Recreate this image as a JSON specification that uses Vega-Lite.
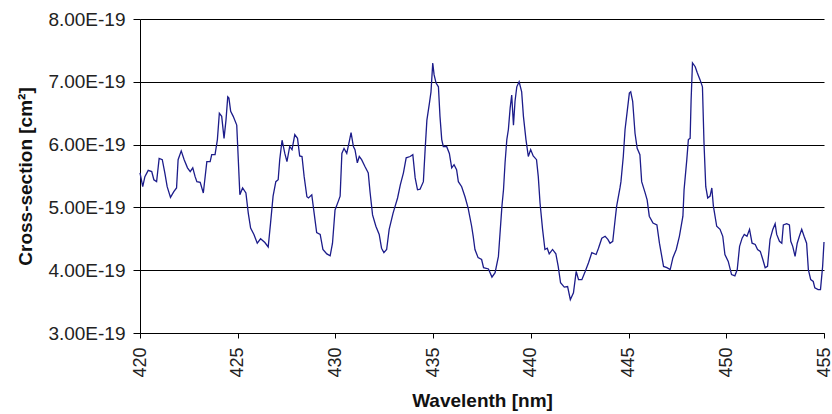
{
  "$schema": "https://vega.github.io/schema/vega-lite/v6.json",
  "autosize": "none",
  "width": 684,
  "height": 314,
  "padding": {"left": 140, "top": 19, "right": 8, "bottom": 81},
  "background": "white",
  "config": {"view": {"stroke": null}, "font": "Liberation Sans"},
  "data": {"values": [
    {"w":420.00,"cs":5.55e-19},{"w":420.14,"cs":5.33e-19},{"w":420.25,"cs":5.49e-19},{"w":420.42,"cs":5.59e-19},{"w":420.60,"cs":5.57e-19},{"w":420.71,"cs":5.44e-19},{"w":420.85,"cs":5.41e-19},{"w":420.98,"cs":5.78e-19},{"w":421.14,"cs":5.76e-19},{"w":421.27,"cs":5.55e-19},{"w":421.39,"cs":5.33e-19},{"w":421.56,"cs":5.16e-19},{"w":421.73,"cs":5.25e-19},{"w":421.87,"cs":5.31e-19},{"w":421.95,"cs":5.76e-19},
    {"w":422.11,"cs":5.90e-19},{"w":422.26,"cs":5.76e-19},{"w":422.43,"cs":5.63e-19},{"w":422.57,"cs":5.57e-19},{"w":422.70,"cs":5.63e-19},{"w":422.82,"cs":5.49e-19},{"w":422.91,"cs":5.41e-19},{"w":423.08,"cs":5.40e-19},{"w":423.24,"cs":5.23e-19},{"w":423.42,"cs":5.73e-19},{"w":423.59,"cs":5.73e-19},{"w":423.67,"cs":5.84e-19},{"w":423.84,"cs":5.84e-19},{"w":423.96,"cs":6.08e-19},{"w":424.06,"cs":6.50e-19},{"w":424.18,"cs":6.45e-19},{"w":424.30,"cs":6.10e-19},{"w":424.40,"cs":6.39e-19},{"w":424.49,"cs":6.76e-19},{"w":424.55,"cs":6.74e-19},{"w":424.64,"cs":6.53e-19},{"w":424.77,"cs":6.45e-19},{"w":424.95,"cs":6.31e-19},{"w":425.03,"cs":5.76e-19},{"w":425.11,"cs":5.20e-19},{"w":425.25,"cs":5.31e-19},{"w":425.42,"cs":5.23e-19},{"w":425.54,"cs":4.91e-19},{"w":425.66,"cs":4.67e-19},{"w":425.83,"cs":4.57e-19},{"w":426.00,"cs":4.43e-19},{"w":426.17,"cs":4.50e-19},{"w":426.39,"cs":4.44e-19},{"w":426.56,"cs":4.37e-19},{"w":426.68,"cs":4.75e-19},{"w":426.81,"cs":5.18e-19},{"w":426.95,"cs":5.41e-19},{"w":427.07,"cs":5.44e-19},{"w":427.15,"cs":5.76e-19},{"w":427.27,"cs":6.07e-19},{"w":427.41,"cs":5.86e-19},{"w":427.52,"cs":5.73e-19},{"w":427.66,"cs":5.97e-19},{"w":427.78,"cs":5.92e-19},{"w":427.92,"cs":6.16e-19},
    {"w":428.06,"cs":6.10e-19},{"w":428.17,"cs":5.82e-19},{"w":428.29,"cs":5.81e-19},{"w":428.40,"cs":5.49e-19},{"w":428.54,"cs":5.17e-19},{"w":428.62,"cs":5.15e-19},{"w":428.79,"cs":5.20e-19},{"w":428.91,"cs":4.91e-19},{"w":429.04,"cs":4.60e-19},{"w":429.22,"cs":4.57e-19},{"w":429.36,"cs":4.33e-19},{"w":429.56,"cs":4.26e-19},{"w":429.73,"cs":4.23e-19},{"w":429.85,"cs":4.43e-19},{"w":429.98,"cs":4.96e-19},{"w":430.15,"cs":5.10e-19},{"w":430.24,"cs":5.18e-19},{"w":430.33,"cs":5.86e-19},{"w":430.44,"cs":5.94e-19},{"w":430.58,"cs":5.86e-19},{"w":430.71,"cs":6.05e-19},{"w":430.80,"cs":6.19e-19},{"w":430.92,"cs":5.97e-19},{"w":431.00,"cs":5.92e-19},{"w":431.12,"cs":5.71e-19},{"w":431.22,"cs":5.81e-19},{"w":431.34,"cs":5.76e-19},{"w":431.51,"cs":5.65e-19},{"w":431.68,"cs":5.55e-19},{"w":431.77,"cs":5.25e-19},{"w":431.90,"cs":4.88e-19},{"w":432.07,"cs":4.70e-19},{"w":432.24,"cs":4.57e-19},{"w":432.36,"cs":4.35e-19},{"w":432.48,"cs":4.28e-19},{"w":432.62,"cs":4.33e-19},{"w":432.75,"cs":4.65e-19},{"w":432.95,"cs":4.91e-19},
    {"w":433.18,"cs":5.15e-19},{"w":433.32,"cs":5.36e-19},{"w":433.48,"cs":5.55e-19},{"w":433.62,"cs":5.79e-19},{"w":433.82,"cs":5.81e-19},{"w":433.96,"cs":5.84e-19},{"w":434.08,"cs":5.47e-19},{"w":434.20,"cs":5.28e-19},{"w":434.33,"cs":5.29e-19},{"w":434.50,"cs":5.41e-19},{"w":434.59,"cs":5.92e-19},{"w":434.68,"cs":6.39e-19},{"w":434.81,"cs":6.66e-19},{"w":434.89,"cs":6.84e-19},{"w":434.98,"cs":7.30e-19},{"w":435.05,"cs":7.11e-19},{"w":435.15,"cs":6.98e-19},{"w":435.27,"cs":6.92e-19},{"w":435.35,"cs":6.45e-19},{"w":435.44,"cs":6.08e-19},{"w":435.52,"cs":5.97e-19},{"w":435.69,"cs":5.97e-19},{"w":435.83,"cs":5.86e-19},{"w":435.95,"cs":5.63e-19},{"w":436.07,"cs":5.68e-19},{"w":436.20,"cs":5.60e-19},{"w":436.29,"cs":5.41e-19},{"w":436.46,"cs":5.33e-19},{"w":436.63,"cs":5.17e-19},{"w":436.79,"cs":4.99e-19},{"w":436.97,"cs":4.70e-19},{"w":437.05,"cs":4.54e-19},{"w":437.14,"cs":4.33e-19},{"w":437.30,"cs":4.20e-19},{"w":437.48,"cs":4.17e-19},
    {"w":437.58,"cs":4.04e-19},{"w":437.83,"cs":4.02e-19},{"w":438.01,"cs":3.89e-19},{"w":438.17,"cs":3.96e-19},{"w":438.34,"cs":4.22e-19},{"w":438.52,"cs":5.02e-19},{"w":438.60,"cs":5.28e-19},{"w":438.68,"cs":5.71e-19},{"w":438.77,"cs":6.08e-19},{"w":438.85,"cs":6.24e-19},{"w":438.94,"cs":6.58e-19},{"w":439.02,"cs":6.79e-19},{"w":439.11,"cs":6.31e-19},{"w":439.19,"cs":6.69e-19},{"w":439.28,"cs":6.92e-19},{"w":439.40,"cs":7.00e-19},{"w":439.53,"cs":6.84e-19},{"w":439.62,"cs":6.45e-19},{"w":439.75,"cs":6.08e-19},{"w":439.87,"cs":5.81e-19},{"w":439.99,"cs":5.92e-19},{"w":440.12,"cs":5.82e-19},{"w":440.29,"cs":5.76e-19},{"w":440.38,"cs":5.49e-19},{"w":440.47,"cs":5.07e-19},{"w":440.60,"cs":4.65e-19},{"w":440.72,"cs":4.33e-19},{"w":440.84,"cs":4.35e-19},{"w":440.94,"cs":4.26e-19},{"w":441.11,"cs":4.33e-19},{"w":441.28,"cs":4.26e-19},{"w":441.40,"cs":4.06e-19},{"w":441.52,"cs":3.80e-19},
    {"w":441.71,"cs":3.73e-19},{"w":441.88,"cs":3.74e-19},{"w":442.02,"cs":3.53e-19},{"w":442.18,"cs":3.64e-19},{"w":442.32,"cs":3.98e-19},{"w":442.44,"cs":3.85e-19},{"w":442.61,"cs":3.85e-19},{"w":442.78,"cs":3.98e-19},{"w":442.95,"cs":4.12e-19},{"w":443.12,"cs":4.28e-19},{"w":443.34,"cs":4.25e-19},{"w":443.46,"cs":4.35e-19},{"w":443.63,"cs":4.51e-19},{"w":443.80,"cs":4.54e-19},{"w":443.94,"cs":4.49e-19},{"w":444.05,"cs":4.43e-19},{"w":444.19,"cs":4.46e-19},{"w":444.31,"cs":4.80e-19},{"w":444.39,"cs":5.02e-19},{"w":444.56,"cs":5.31e-19},{"w":444.61,"cs":5.41e-19},{"w":444.73,"cs":5.81e-19},{"w":444.82,"cs":6.24e-19},{"w":444.93,"cs":6.53e-19},{"w":445.04,"cs":6.82e-19},{"w":445.11,"cs":6.84e-19},{"w":445.21,"cs":6.69e-19},{"w":445.33,"cs":6.18e-19},{"w":445.44,"cs":5.94e-19},{"w":445.58,"cs":5.84e-19},{"w":445.67,"cs":5.41e-19},{"w":445.84,"cs":5.24e-19},{"w":445.95,"cs":5.12e-19},{"w":446.06,"cs":4.86e-19},
    {"w":446.25,"cs":4.75e-19},{"w":446.45,"cs":4.72e-19},{"w":446.58,"cs":4.43e-19},{"w":446.79,"cs":4.06e-19},{"w":446.96,"cs":4.04e-19},{"w":447.13,"cs":4.01e-19},{"w":447.27,"cs":4.20e-19},{"w":447.44,"cs":4.33e-19},{"w":447.60,"cs":4.54e-19},{"w":447.78,"cs":4.86e-19},{"w":447.84,"cs":5.28e-19},{"w":447.98,"cs":5.76e-19},{"w":448.06,"cs":6.08e-19},{"w":448.15,"cs":6.10e-19},{"w":448.20,"cs":6.71e-19},{"w":448.27,"cs":7.30e-19},{"w":448.41,"cs":7.24e-19},{"w":448.52,"cs":7.14e-19},{"w":448.66,"cs":7.03e-19},{"w":448.78,"cs":6.92e-19},{"w":448.86,"cs":6.02e-19},{"w":448.95,"cs":5.33e-19},{"w":449.05,"cs":5.15e-19},{"w":449.17,"cs":5.18e-19},{"w":449.26,"cs":5.31e-19},{"w":449.34,"cs":5.02e-19},{"w":449.51,"cs":4.70e-19},{"w":449.68,"cs":4.65e-19},{"w":449.82,"cs":4.54e-19},{"w":449.93,"cs":4.25e-19},{"w":450.10,"cs":4.14e-19},{"w":450.27,"cs":3.93e-19},{"w":450.44,"cs":3.91e-19},{"w":450.56,"cs":4.01e-19},
    {"w":450.68,"cs":4.38e-19},{"w":450.81,"cs":4.51e-19},{"w":450.92,"cs":4.57e-19},{"w":451.06,"cs":4.54e-19},{"w":451.19,"cs":4.65e-19},{"w":451.32,"cs":4.43e-19},{"w":451.48,"cs":4.41e-19},{"w":451.60,"cs":4.33e-19},{"w":451.74,"cs":4.30e-19},{"w":451.87,"cs":4.17e-19},{"w":451.99,"cs":4.04e-19},{"w":452.11,"cs":4.06e-19},{"w":452.24,"cs":4.49e-19},{"w":452.38,"cs":4.65e-19},{"w":452.50,"cs":4.74e-19},{"w":452.58,"cs":4.57e-19},{"w":452.72,"cs":4.46e-19},{"w":452.84,"cs":4.43e-19},{"w":452.92,"cs":4.72e-19},{"w":453.09,"cs":4.74e-19},{"w":453.23,"cs":4.72e-19},{"w":453.30,"cs":4.46e-19},{"w":453.40,"cs":4.38e-19},{"w":453.52,"cs":4.22e-19},{"w":453.63,"cs":4.43e-19},{"w":453.74,"cs":4.54e-19},{"w":453.86,"cs":4.65e-19},{"w":453.98,"cs":4.54e-19},{"w":454.11,"cs":4.43e-19},{"w":454.20,"cs":4.01e-19},{"w":454.32,"cs":3.85e-19},{"w":454.45,"cs":3.82e-19},{"w":454.53,"cs":3.72e-19},{"w":454.70,"cs":3.69e-19},{"w":454.82,"cs":3.69e-19},{"w":454.93,"cs":4.06e-19},{"w":455.00,"cs":4.45e-19}
  ]},
  "mark": {"type": "line", "color": "#1c1c8a", "strokeWidth": 1.3, "interpolate": "linear"},
  "encoding": {
    "x": {
      "field": "w", "type": "quantitative",
      "scale": {"domain": [420, 455], "nice": false, "zero": false},
      "axis": {
        "values": [420, 425, 430, 435, 440, 445, 450, 455],
        "title": "Wavelenth [nm]",
        "grid": false,
        "labelAngle": -90, "labelAlign": "right", "labelBaseline": "middle",
        "labelFont": "Liberation Sans", "labelFontSize": 18, "labelColor": "#222",
        "labelPadding": 9, "tickSize": 5, "tickColor": "#000", "domainColor": "#000",
        "titleFont": "Liberation Sans", "titleFontSize": 19, "titleFontWeight": "bold", "titleColor": "#111",
        "titlePadding": 14
      }
    },
    "y": {
      "field": "cs", "type": "quantitative",
      "scale": {"domain": [3e-19, 8e-19], "nice": false, "zero": false},
      "axis": {
        "values": [3e-19, 4e-19, 5e-19, 6e-19, 7e-19, 8e-19],
        "labelExpr": "format(datum.value * 1e19, '.2f') + 'E-19'",
        "title": "Cross-section [cm²]",
        "grid": true, "gridColor": "#000", "gridOpacity": 1, "gridWidth": 1,
        "labelFont": "Liberation Sans", "labelFontSize": 19, "labelColor": "#222",
        "labelPadding": 8, "tickSize": 7, "tickColor": "#000", "domainColor": "#000",
        "titleFont": "Liberation Sans", "titleFontSize": 19, "titleFontWeight": "bold", "titleColor": "#111",
        "titlePadding": 12
      }
    }
  }
}
